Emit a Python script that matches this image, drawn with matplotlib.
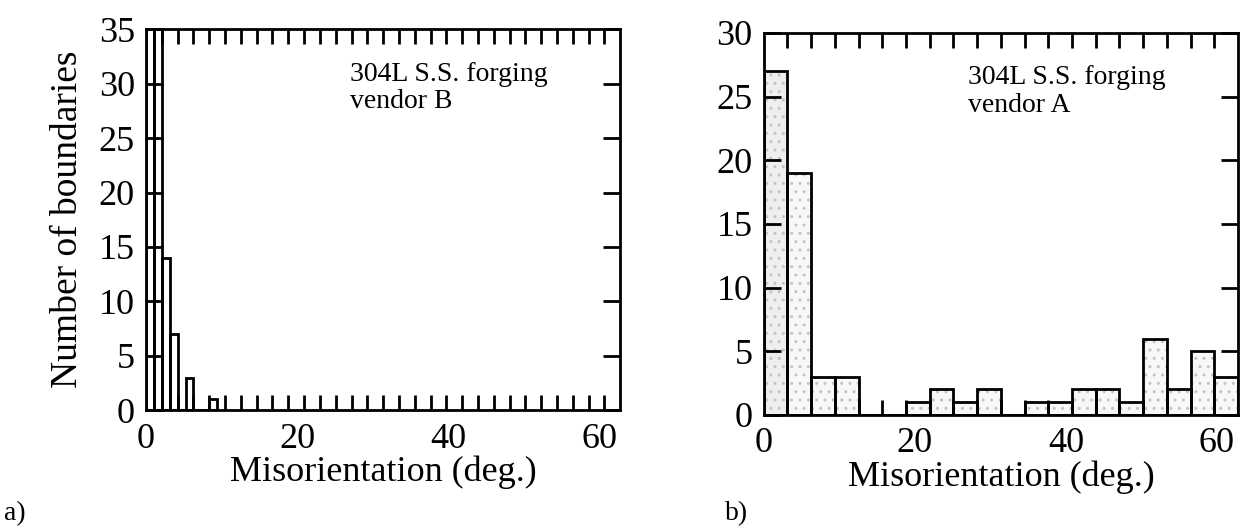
import matplotlib
matplotlib.use('Agg')
import matplotlib.pyplot as plt
import numpy as np

# misorientation histograms, cubic max misorientation 62.8 deg
max_mis = 62.8

# vendor B: 60 bins over 0-62.8 deg, only first bins are non-empty
# (first two bars run off the top of the plot)
vendor_b_nbins = 60
vendor_b_ticks = 30
vendor_b_counts = [42, 38, 14, 7, 0, 3, 0, 0, 1]

# vendor A: 20 bins over 0-62.8 deg
vendor_a_nbins = 20
vendor_a_ticks = 20
vendor_a_counts = [27, 19, 3, 3, 0, 0, 1, 2, 1, 2, 0, 1, 1, 2, 2, 1, 6, 2, 5, 3]

x_labels = [0, 20, 40, 60]
y_max_b = 35
y_max_a = 30

plt.rcParams['font.family'] = ['Liberation Serif', 'DejaVu Serif']

fig = plt.figure(figsize=(12.48, 5.32), dpi=100)
ax_b = fig.add_axes([0.117, 0.229, 0.380, 0.716])
ax_a = fig.add_axes([0.612, 0.220, 0.380, 0.718])


def draw_hist(ax, counts, nbins, nticks, ymax, face, first_face, hatch):
    edges = np.linspace(0, max_mis, nbins + 1)
    width = edges[1] - edges[0]
    left = edges[:len(counts)]
    faces = [first_face] + [face] * (len(counts) - 1)
    # stipple layer
    ax.bar(left, counts, width=width, align='edge', color=faces,
           hatch=hatch, edgecolor='#c4c4c4', linewidth=0)
    # outlines
    ax.bar(left, counts, width=width, align='edge', fill=False,
           edgecolor='black', linewidth=2)
    ax.set_xlim(0, max_mis)
    ax.set_ylim(0, ymax)
    ax.set_xticks(x_labels)
    ax.set_xticks(np.linspace(0, max_mis, nticks + 1)[1:-1], minor=True)
    ax.set_yticks(np.arange(0, ymax + 1, 5))
    ax.tick_params(axis='both', which='both', direction='in', top=True,
                   right=True, labelsize=26, width=2)
    ax.tick_params(axis='x', which='major', length=0, pad=9)
    ax.tick_params(axis='x', which='minor', length=11)
    ax.tick_params(axis='y', which='major', length=12, pad=8)
    for s in ax.spines.values():
        s.set_linewidth(2)
    ax.set_xlabel('Misorientation (deg.)', fontsize=26, labelpad=0)


draw_hist(ax_b, vendor_b_counts, vendor_b_nbins, vendor_b_ticks, y_max_b,
          'white', 'white', None)
draw_hist(ax_a, vendor_a_counts, vendor_a_nbins, vendor_a_ticks, y_max_a,
          '#f8f8f8', '#eeeeee', '..')

ax_b.set_ylabel('Number of boundaries', fontsize=27, labelpad=10)

ax_b.text(0.43, 0.915, '304L S.S. forging\nvendor B', transform=ax_b.transAxes,
          fontsize=20, va='top', ha='left', linespacing=1.15)
ax_a.text(0.43, 0.915, '304L S.S. forging\nvendor A', transform=ax_a.transAxes,
          fontsize=20, va='top', ha='left', linespacing=1.15)

fig.text(0.003, 0.022, 'a)', fontsize=20)
fig.text(0.581, 0.022, 'b)', fontsize=20)

fig.savefig('out.png', dpi=100)
